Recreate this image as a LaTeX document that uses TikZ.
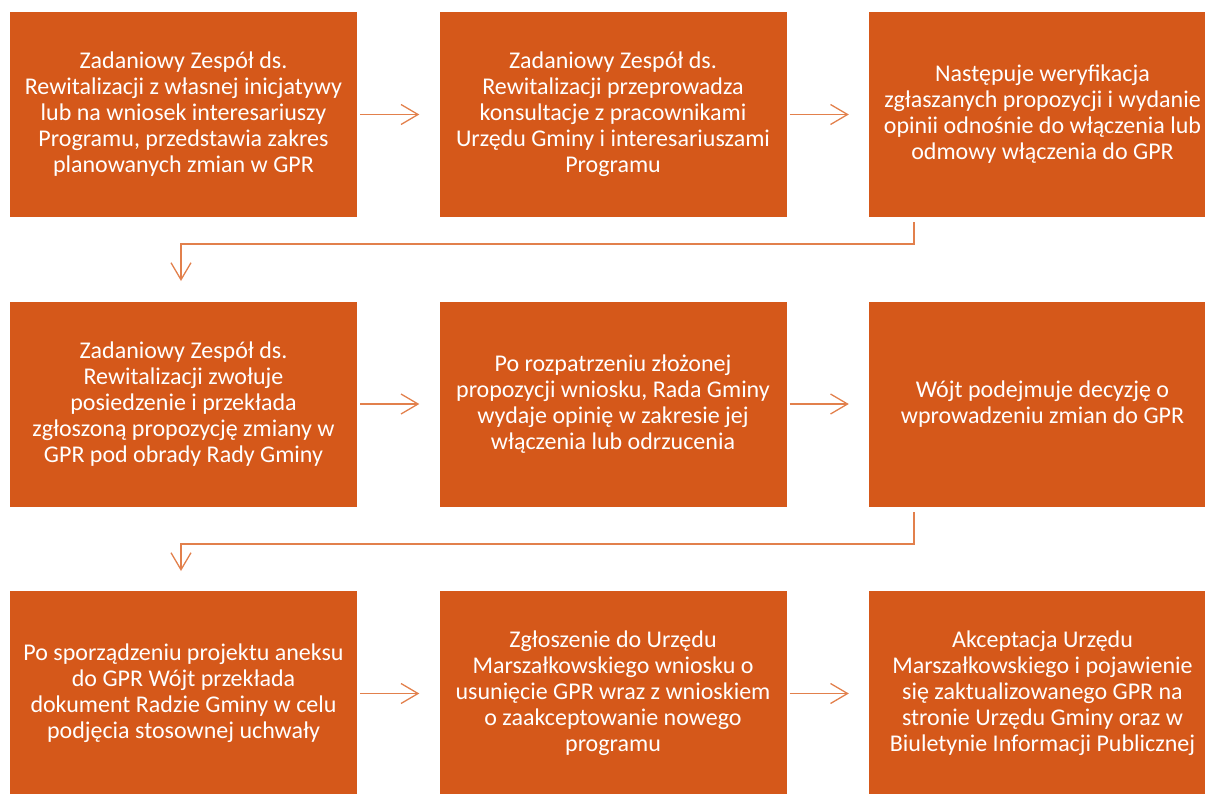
\documentclass[tikz,border=0pt]{standalone}
\usepackage{fontspec}
\setmainfont{Carlito}
\usetikzlibrary{arrows.meta}
\definecolor{boxor}{HTML}{D5581A}
\definecolor{lineor}{HTML}{E2804C}
\begin{document}
\begin{tikzpicture}[x=1pt,y=-1pt,
  stepbox/.style={fill=boxor, draw=none, minimum width=347pt, minimum height=205pt, inner sep=0pt,
    text=white, align=center, font=\fontsize{24}{26}\selectfont},
  conn/.style={draw=lineor, line width=1.5pt, -{Straight Barb[length=17pt,width=20pt,line width=1.3pt]}}]
\useasboundingbox (0,0) rectangle (1205,793);
\begin{scope}
\clip (0,0) rectangle (1205,793);
\node[stepbox] (a1) at (183.5,114.5) {Zadaniowy Zespół ds.\\Rewitalizacji z własnej inicjatywy\\lub na wniosek interesariuszy\\Programu, przedstawia zakres\\planowanych zmian w GPR};
\node[stepbox] (a2) at (613,114.5) {Zadaniowy Zespół ds.\\Rewitalizacji przeprowadza\\konsultacje z pracownikami\\Urzędu Gminy i interesariuszami\\Programu};
\node[stepbox] (a3) at (1042.5,114.5) {Następuje weryfikacja\\zgłaszanych propozycji i wydanie\\opinii odnośnie do włączenia lub\\odmowy włączenia do GPR};
\node[stepbox] (b1) at (183.5,404) {Zadaniowy Zespół ds.\\Rewitalizacji zwołuje\\posiedzenie i przekłada\\zgłoszoną propozycję zmiany w\\GPR pod obrady Rady Gminy};
\node[stepbox] (b2) at (613,404) {Po rozpatrzeniu złożonej\\propozycji wniosku, Rada Gminy\\wydaje opinię w zakresie jej\\włączenia lub odrzucenia};
\node[stepbox] (b3) at (1042.5,404) {Wójt podejmuje decyzję o\\wprowadzeniu zmian do GPR};
\node[stepbox] (c1) at (183.5,693.5) {Po sporządzeniu projektu aneksu\\do GPR Wójt przekłada\\dokument Radzie Gminy w celu\\podjęcia stosownej uchwały};
\node[stepbox] (c2) at (613,693.5) {Zgłoszenie do Urzędu\\Marszałkowskiego wniosku o\\usunięcie GPR wraz z wnioskiem\\o zaakceptowanie nowego\\programu};
\node[stepbox] (c3) at (1042.5,693.5) {Akceptacja Urzędu\\Marszałkowskiego i pojawienie\\się zaktualizowanego GPR na\\stronie Urzędu Gminy oraz w\\Biuletynie Informacji Publicznej};
\end{scope}
\path[conn, shorten <=3pt, shorten >=20pt] (a1.east) -- (a2.west);
\path[conn, shorten <=3pt, shorten >=20pt] (a2.east) -- (a3.west);
\path[conn, shorten <=3pt, shorten >=20pt] (b1.east) -- (b2.west);
\path[conn, shorten <=3pt, shorten >=20pt] (b2.east) -- (b3.west);
\path[conn, shorten <=3pt, shorten >=20pt] (c1.east) -- (c2.west);
\path[conn, shorten <=3pt, shorten >=20pt] (c2.east) -- (c3.west);
\coordinate (s1) at (914,222);
\coordinate (e1) at (181,281);
\path[conn] (s1) |- (181,244) -- (e1);
\coordinate (s2) at (914,512);
\coordinate (e2) at (181,571);
\path[conn] (s2) |- (181,544) -- (e2);
\end{tikzpicture}
\end{document}
